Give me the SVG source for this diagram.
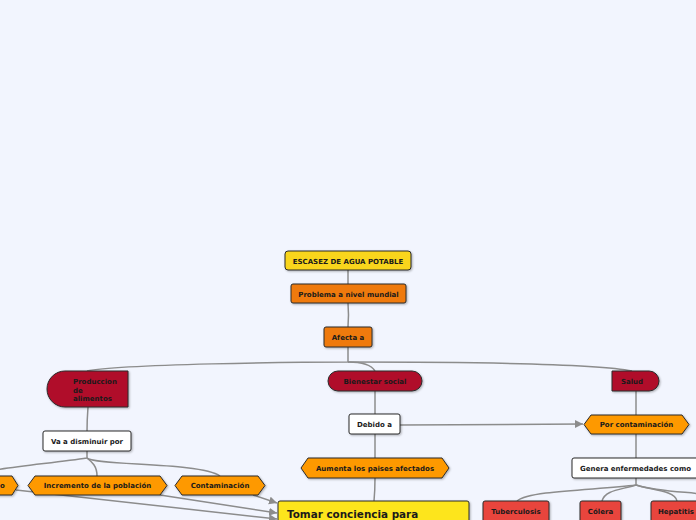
<svg xmlns="http://www.w3.org/2000/svg" width="696" height="520" viewBox="0 0 696 520">
<defs>
<filter id="sh" x="-10%" y="-20%" width="130%" height="160%"><feDropShadow dx="1" dy="1" stdDeviation="0.8" flood-color="#000" flood-opacity="0.3"/></filter>
<marker id="arr" markerWidth="10" markerHeight="10" refX="8" refY="4" orient="auto" markerUnits="userSpaceOnUse"><path d="M0,0 L8,4 L0,8 Z" fill="#8c8c8c"/></marker>
<style>
.t{font-family:"DejaVu Sans",Verdana,sans-serif;font-weight:bold;font-size:7px;fill:#1a1a1a}
.c{text-anchor:middle}
.b{stroke:#2b2b2b;stroke-width:1;filter:url(#sh)}
.yel{fill:#f9d51e}.org{fill:#ef7a10}.crm{fill:#b00b2a}.wht{fill:#ffffff}.hex{fill:#fe9900}.red{fill:#e8453c}.ylw2{fill:#fde51a}
.ln{fill:none;stroke:#8c8c8c;stroke-width:1.5}
</style>
</defs>
<rect width="696" height="520" fill="#f2f5fe"/>
<g id="connectors">
<path class="ln" d="M348,270 L348,284"/>
<path class="ln" d="M348,303 Q349,315 348,327"/>
<path class="ln" d="M348,347 L348,362 C300,362 120,364 87,371"/>
<path class="ln" d="M348,362 C500,362 600,364 632,371"/>
<path class="ln" d="M348,362 C365,362 372,366 375,371"/>
<path class="ln" d="M88,407 Q87,420 87,432"/>
<path class="ln" d="M87,451 L87,458 C60,462 20,466 -5,470"/>
<path class="ln" d="M87,458 C92,462 97,466 97,476"/>
<path class="ln" d="M87,458 C95,466 200,462 220,476"/>
<path class="ln" d="M375,391 L375,414"/>
<path class="ln" d="M375,434 L375,458"/>
<path class="ln" d="M375,478 Q375,490 374,501"/>
<path class="ln" d="M400,425 L583,424" marker-end="url(#arr)"/>
<path class="ln" d="M636,391 L636,415"/>
<path class="ln" d="M636,434 L636,458"/>
<path class="ln" d="M636,478 L636,485 C600,490 530,490 517,501"/>
<path class="ln" d="M636,485 C620,490 605,490 602,501"/>
<path class="ln" d="M636,485 C650,490 675,490 677,501"/>
<path class="ln" d="M636,485 C660,492 690,492 700,494"/>
<path class="ln" d="M16,490 L277,519" marker-end="url(#arr)"/>
<path class="ln" d="M160,495 L277,513" marker-end="url(#arr)"/>
<path class="ln" d="M253,495 L277,503" marker-end="url(#arr)"/>
</g>
<g id="n-escasez"><rect class="b yel" x="285" y="251" width="126" height="19" rx="3"/><text class="t c" x="348" y="263.5">ESCASEZ DE AGUA POTABLE</text></g>
<g id="n-problema"><rect class="b org" x="291" y="284" width="115" height="19" rx="2"/><text class="t c" x="348.5" y="296.5">Problema a nivel mundial</text></g>
<g id="n-afecta"><rect class="b org" x="324" y="327" width="48" height="20" rx="2"/><text class="t c" x="348" y="339.5">Afecta a</text></g>
<g id="n-produccion"><path class="b crm" d="M65,371 L128,371 L128,407 L65,407 A18,18 0 0 1 65,371 Z"/><text class="t" x="73" y="384">Produccion</text><text class="t" x="73" y="392.5">de</text><text class="t" x="73" y="401">alimentos</text></g>
<g id="n-bienestar"><rect class="b crm" x="328" y="371" width="94" height="20" rx="10"/><text class="t c" x="375" y="383.5">Bienestar social</text></g>
<g id="n-salud"><path class="b crm" d="M612,371 L649,371 A10,10 0 0 1 649,391 L612,391 Z"/><text class="t c" x="632" y="383.5">Salud</text></g>
<g id="n-va"><rect class="b wht" x="43" y="431" width="88" height="20" rx="2"/><text class="t c" x="87" y="443.5">Va a disminuir por</text></g>
<g id="n-debido"><rect class="b wht" x="349" y="414" width="51" height="20" rx="2"/><text class="t c" x="374.5" y="426.5">Debido a</text></g>
<g id="n-porcont"><path class="b hex" d="M584,424.5 L591,415 L682,415 L689,424.5 L682,434 L591,434 Z"/><text class="t c" x="636.5" y="427">Por contaminación</text></g>
<g id="n-aumenta"><path class="b hex" d="M301,468 L308,458 L442,458 L449,468 L442,478 L308,478 Z"/><text class="t c" x="375" y="470.5">Aumenta los paises afectados</text></g>
<g id="n-genera"><rect class="b wht" x="572" y="458" width="128" height="20" rx="2"/><text class="t c" x="635.5" y="470.5">Genera enfermedades como</text></g>
<g id="n-o"><path class="b hex" d="M-60,476 L12,476 L18,485.5 L12,495 L-60,495 Z"/><text class="t" x="0" y="488">o</text></g>
<g id="n-incremento"><path class="b hex" d="M28,485.5 L35,476 L160,476 L167,485.5 L160,495 L35,495 Z"/><text class="t c" x="97.5" y="488">Incremento de la población</text></g>
<g id="n-contaminacion"><path class="b hex" d="M175,485.5 L182,476 L258,476 L265,485.5 L258,495 L182,495 Z"/><text class="t c" x="220" y="488">Contaminación</text></g>
<g id="n-tomar"><rect class="b ylw2" x="278" y="501" width="191" height="40" rx="2"/><text class="t" x="287" y="517.5" style="font-size:10.4px">Tomar conciencia para</text></g>
<g id="n-tuberculosis"><rect class="b red" x="483" y="501" width="66" height="30" rx="2"/><text class="t c" x="516" y="514">Tuberculosis</text></g>
<g id="n-colera"><rect class="b red" x="580" y="501" width="41" height="30" rx="2"/><text class="t c" x="600.5" y="514">Cólera</text></g>
<g id="n-hepatitis"><rect class="b red" x="651" y="501" width="52" height="30" rx="2"/><text class="t c" x="676" y="514">Hepatitis</text></g>
</svg>
